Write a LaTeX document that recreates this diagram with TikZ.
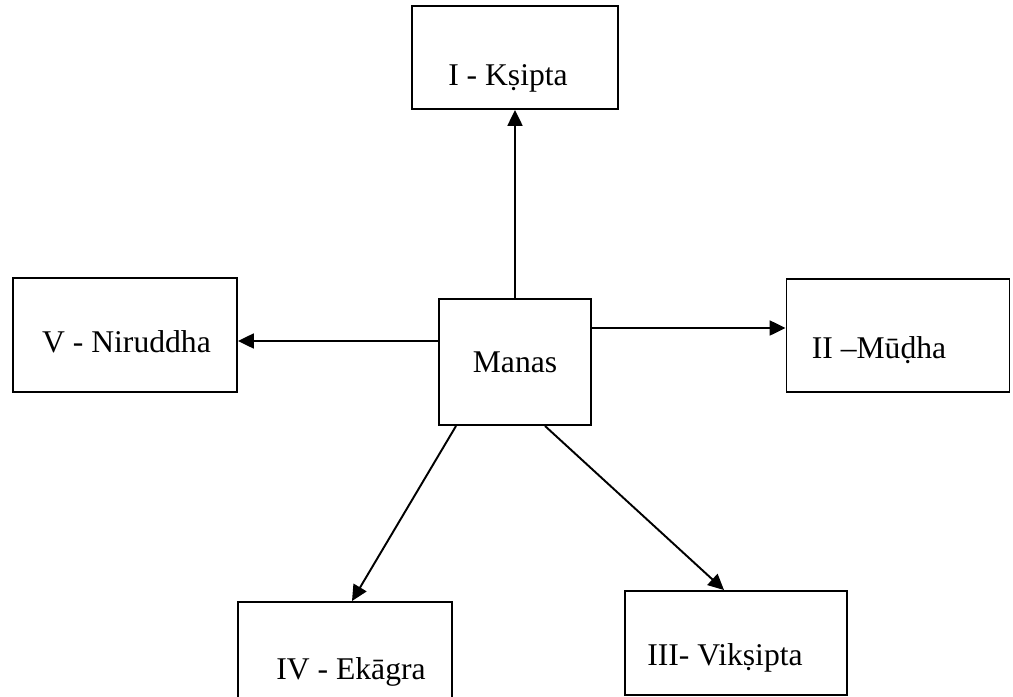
\documentclass[tikz,border=0pt]{standalone}
\usepackage{fontspec}
\setmainfont{Liberation Serif}
\usepackage{tikz}
\usetikzlibrary{arrows.meta,positioning}

\begin{document}
\begin{tikzpicture}[x=0.02cm,y=-0.02cm,
  statebox/.style={draw=black,line width=1.1pt,rectangle,inner sep=0pt},
  statetext/.style={font=\fontsize{18}{20}\selectfont},
  conn/.style={line width=1.1pt,-{Triangle[length=9pt,width=8.5pt]}}]
\useasboundingbox (0,0) rectangle (1013,696);
\clip (0,0) rectangle (1013,696);

% Centre box
\node[statebox,statetext,minimum width=152*0.02cm,minimum height=126*0.02cm] (manas) at (515,362) {Manas};

% The five states
\node[statebox,minimum width=206*0.02cm,minimum height=103*0.02cm] (kshipta) at (515,57.5) {};
\node[statetext] at (508,78) {I - Kṣipta};

\node[statebox,minimum width=223*0.02cm,minimum height=113*0.02cm] (mudha) at (898,335.5) {};
\node[statetext] at (879,350) {II –Mūḍha};

\node[statebox,minimum width=222*0.02cm,minimum height=104*0.02cm] (vikshipta) at (736,643) {};
\node[statetext] at (725,658) {III- Vikṣipta};

\node[statebox,minimum width=214*0.02cm,minimum height=110*0.02cm] (ekagra) at (345,657) {};
\node[statetext] at (351,672) {IV - Ekāgra};

\node[statebox,minimum width=224*0.02cm,minimum height=114*0.02cm] (niruddha) at (125,335) {};
\node[statetext] at (126.5,342) {V - Niruddha};

% Arrows out of Manas
\draw[conn] (manas.north) -- (kshipta.south);
\draw[conn] ([yshift=0.68cm]manas.east) -- ([yshift=0.15cm]mudha.west);
\draw[conn] ([xshift=0.6cm]manas.south) -- ([xshift=-0.24cm]vikshipta.north);
\draw[conn] ([xshift=-1.18cm]manas.south) -- ([xshift=0.14cm]ekagra.north);
\draw[conn] ([yshift=0.42cm]manas.west) -- ([yshift=-0.12cm]niruddha.east);
\end{tikzpicture}
\end{document}
